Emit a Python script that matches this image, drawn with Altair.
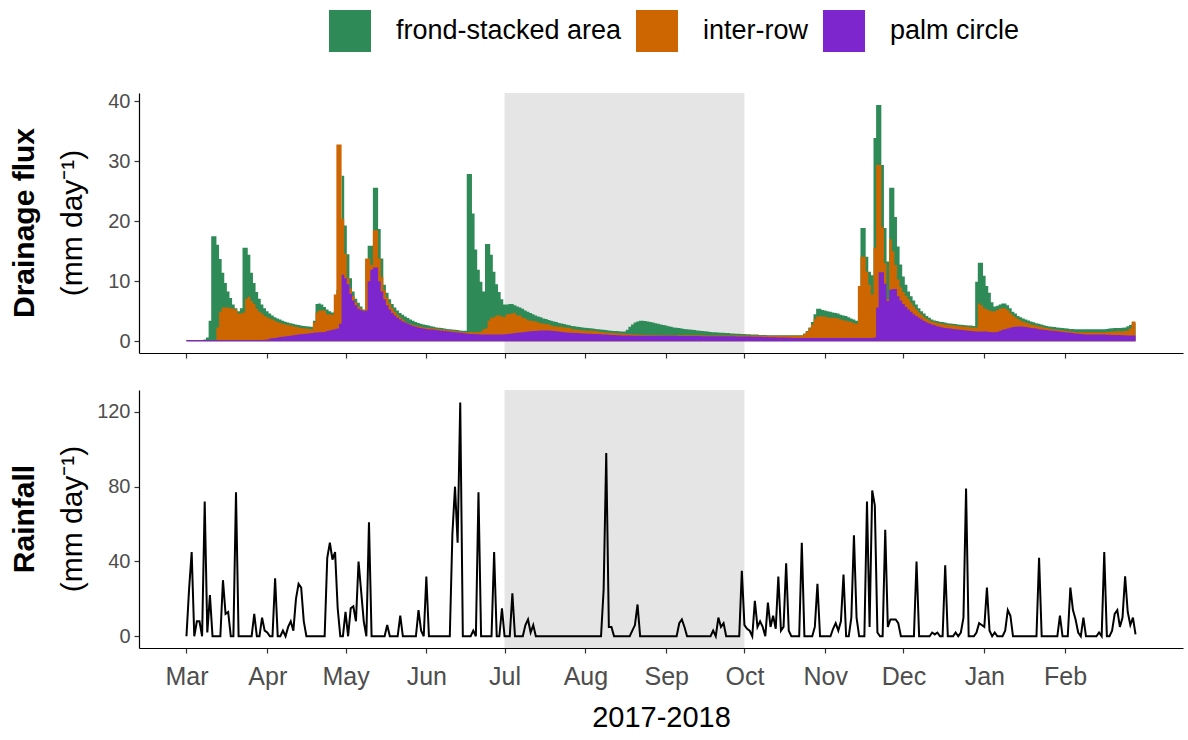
import altair as alt
import pandas as pd

# ---------------- data ----------------
MONTH_LABELS = ["Mar", "Apr", "May", "Jun", "Jul", "Aug", "Sep", "Oct", "Nov", "Dec", "Jan", "Feb"]
MONTH_START_DAY = [0, 31, 61, 92, 122, 153, 184, 214, 245, 275, 306, 337]   # day 0 = 1 Mar 2017
DRY_PERIOD = [122, 214]                                                    # 1 Jul - 1 Oct
ZONES = ["frond-stacked area", "inter-row", "palm circle"]
ZONE_COLORS = ["#2E8B57", "#CD6600", "#7D26CD"]

# daily drainage flux (mm/day), one value per day, Mar 2017 - Feb 2018
frond_stacked = (
    [0.2,0.2,0.2,0.2,0.2,0.2,0.2,0.3,0.6,3.4,17.5,17.5,16.1,13.7,11.4,9.7,8.3,7.2,6.1,5.5,5.0,5.5,15.6,15.6,14.4,11.4,9.7,8.2,7.1,6.1,5.5]
    + [5.0,4.6,4.3,4.0,3.8,3.6,3.4,3.25,3.1,3.0,2.9,2.8,2.7,2.6,2.55,2.5,2.45,2.4,3.4,6.2,6.3,6.1,5.7,5.3,5.0,4.8,5.0,8.5,8.5,27.6]
    + [19.3,14.5,10.5,8.3,7.1,6.4,5.8,5.3,5.0,15.9,15.9,25.6,25.6,18.7,13.8,9.4,8.1,7.0,6.2,5.6,5.1,4.7,4.4,4.1,3.85,3.6,3.4,3.2,3.05,2.9,2.8]
    + [2.7,2.6,2.5,2.4,2.3,2.25,2.2,2.1,2.05,2.0,1.95,1.9,1.85,1.8,1.75,1.75,27.9,27.9,21.3,15.3,11.9,9.9,8.3,16.2,16.2,14.4,11.6,9.5,8.2,7.0]
    + [6.1,6.1,6.2,6.2,6.0,5.8,5.6,5.4,5.1,4.9,4.7,4.5,4.3,4.1,4.0,3.8,3.7,3.55,3.4,3.3,3.2,3.05,2.95,2.85,2.75,2.65,2.55,2.5,2.4,2.35,2.3]
    + [2.25,2.2,2.15,2.1,2.05,2.0,1.95,1.9,1.85,1.8,1.75,1.7,1.7,1.65,1.6,1.6,1.9,2.4,2.8,3.1,3.3,3.4,3.4,3.35,3.3,3.2,3.1,3.0,2.9,2.8,2.7]
    + [2.6,2.5,2.4,2.3,2.25,2.2,2.1,2.05,2.0,1.95,1.9,1.85,1.8,1.75,1.7,1.65,1.6,1.55,1.5,1.5,1.45,1.4,1.4,1.35,1.35,1.3,1.3,1.25,1.25,1.2]
    + [1.2,1.15,1.15,1.1,1.1,1.1,1.05,1.05,1.05,1.0,1.0,1.0,1.0,1.0,1.0,1.0,1.0,1.0,1.0,1.0,1.0,1.0,1.0,1.3,1.7,2.3,3.2,4.5,5.4,5.4,5.2]
    + [5.1,5.0,4.9,4.8,4.7,4.6,4.4,4.3,4.2,4.0,3.8,3.6,3.4,3.3,18.9,18.9,14.1,11.6,11.0,33.9,39.4,39.4,29.4,18.9,13.3,25.6,25.6,20.7,15.8,12.8]
    + [10.8,9.4,8.3,7.5,6.8,6.1,5.5,5.0,4.6,4.2,3.9,3.6,3.45,3.35,3.25,3.2,3.1,3.0,2.95,2.9,2.85,2.8,2.75,2.7,2.65,2.6,2.6,2.55,9.9,13.1,13.1]
    + [10.9,9.2,8.1,6.5,5.8,5.9,6.1,6.3,6.3,6.0,5.5,4.9,4.6,4.2,4.0,3.8,3.6,3.45,3.3,3.15,3.0,2.9,2.8,2.65,2.55,2.45,2.4,2.35,2.3,2.25,2.2]
    + [2.15,2.1,2.05,2.05,2.0,2.0,2.0,2.0,2.0,2.0,2.0,2.0,2.0,2.0,2.0,2.0,2.05,2.1,2.15,2.2,2.2,2.2,2.25,2.3,2.5,2.7,2.9,3.0]
)

inter_row = (
    [0.2,0.2,0.2,0.2,0.2,0.2,0.2,0.2,0.2,0.2,0.2,0.2,2.3,4.9,5.6,5.6,5.6,5.5,5.4,5.3,4.6,4.6,4.8,7.1,7.4,6.7,6.2,5.4,4.9,4.6,4.2]
    + [4.0,3.8,3.6,3.4,3.2,3.05,2.9,2.8,2.7,2.6,2.5,2.4,2.3,2.2,2.15,2.1,2.05,2.0,3.1,4.8,5.1,5.1,5.1,4.5,4.5,4.4,7.8,32.8,32.8,20.4]
    + [14.6,10.5,8.8,7.5,6.5,5.8,5.4,5.1,13.8,13.8,12.7,18.5,18.5,13.8,10.7,8.5,7.3,6.3,5.5,4.9,4.4,4.0,3.6,3.3,3.0,2.85,2.7,2.6,2.5,2.4,2.3]
    + [2.25,2.2,2.15,2.1,2.05,2.0,1.95,1.9,1.85,1.8,1.75,1.7,1.65,1.6,1.55,1.5,1.5,1.5,1.5,1.5,1.5,1.6,2.0,2.1,3.4,3.9,4.0,4.3,4.3,4.1]
    + [4.05,4.5,4.5,4.66,4.66,4.3,4.3,3.9,3.8,3.5,3.4,3.35,3.3,3.1,3.0,2.9,2.85,2.8,2.6,2.5,2.45,2.4,2.35,2.3,2.25,2.2,2.0,1.95,1.9,1.85,1.8]
    + [1.78,1.76,1.74,1.72,1.7,1.6,1.55,1.5,1.45,1.4,1.38,1.35,1.32,1.3,1.28,1.25,1.22,1.2,1.15,1.12,1.1,1.08,1.06,1.05,1.04,1.03,1.02,1.02,1.01,1.0,1.0]
    + [1.0,1.0,1.0,1.0,1.0,1.0,1.0,1.0,1.0,1.0,0.98,0.98,0.98,0.98,0.98,0.97,0.97,0.97,0.97,0.97,0.96,0.96,0.96,0.96,0.96,0.95,0.95,0.95,0.95,0.95]
    + [0.95,0.95,0.95,0.95,0.95,0.95,0.95,0.92,0.92,0.92,0.92,0.92,0.9,0.9,0.9,0.9,0.9,0.9,0.9,0.9,0.9,0.9,0.95,1.2,1.6,2.1,2.8,3.7,4.1,4.15,4.1]
    + [4.1,3.95,3.9,3.9,3.85,3.8,3.6,3.5,3.4,3.3,3.2,3.0,2.9,9.2,14.1,14.1,11.6,9.4,7.8,15.6,29.4,29.4,19.0,13.0,7.0,17.0,15.0,12.7,10.3,9.0]
    + [8.2,7.6,7.0,6.4,5.8,5.3,4.8,4.4,4.0,3.7,3.45,3.3,3.15,3.05,2.95,2.9,2.8,2.75,2.7,2.65,2.6,2.55,2.5,2.45,2.4,2.35,2.3,2.3,2.3,6.3,6.0]
    + [5.5,5.3,5.1,5.0,5.0,5.2,5.4,5.5,5.5,5.2,4.7,4.3,4.0,3.7,3.45,3.25,3.1,2.95,2.8,2.7,2.6,2.5,2.4,2.3,2.2,2.1,2.0,1.95,1.9,1.85,1.8]
    + [1.75,1.7,1.65,1.6,1.55,1.5,1.5,1.5,1.5,1.48,1.48,1.48,1.48,1.48,1.5,1.5,1.52,1.55,1.6,1.62,1.65,1.65,1.65,1.7,1.8,2.1,3.3,3.3]
)

palm_circle = (
    [0.2,0.2,0.2,0.2,0.2,0.2,0.2,0.2,0.2,0.2,0.2,0.2,0.2,0.2,0.2,0.2,0.2,0.2,0.2,0.2,0.2,0.2,0.2,0.2,0.2,0.2,0.2,0.2,0.2,0.2,0.25]
    + [0.3,0.4,0.5,0.55,0.6,0.7,0.75,0.8,0.85,0.9,1.0,1.05,1.1,1.15,1.2,1.25,1.3,1.35,1.4,1.45,1.5,1.5,1.55,1.7,1.8,1.9,2.0,2.1,2.9,11.1]
    + [10.5,9.5,7.9,6.8,6.0,5.4,5.2,5.0,5.1,10.0,11.9,12.3,12.3,10.0,8.3,7.0,6.0,5.3,4.7,4.3,3.9,3.6,3.3,3.1,2.9,2.7,2.55,2.4,2.3,2.2,2.1]
    + [2.05,2.0,1.95,1.9,1.85,1.8,1.75,1.7,1.65,1.6,1.55,1.5,1.45,1.4,1.35,1.3,1.25,1.2,1.2,1.15,1.15,1.1,1.1,1.1,1.1,1.1,1.1,1.1,1.1,1.1]
    + [1.15,1.2,1.25,1.3,1.35,1.4,1.45,1.5,1.55,1.6,1.65,1.7,1.72,1.75,1.77,1.78,1.78,1.77,1.75,1.7,1.65,1.6,1.55,1.5,1.45,1.42,1.4,1.38,1.35,1.32,1.3]
    + [1.28,1.26,1.24,1.22,1.2,1.18,1.15,1.12,1.1,1.08,1.05,1.02,1.0,0.98,0.96,0.95,0.94,0.93,0.93,0.92,0.92,0.92,0.91,0.91,0.91,0.9,0.9,0.9,0.9,0.9,0.9]
    + [0.9,0.9,0.9,0.89,0.89,0.88,0.88,0.87,0.87,0.86,0.86,0.85,0.85,0.85,0.84,0.84,0.84,0.83,0.83,0.83,0.82,0.82,0.82,0.82,0.81,0.81,0.81,0.8,0.8,0.8]
    + [0.8,0.8,0.78,0.76,0.75,0.74,0.72,0.7,0.7,0.68,0.66,0.65,0.64,0.62,0.6,0.6,0.6,0.58,0.56,0.55,0.55,0.55,0.55,0.55,0.55,0.55,0.55,0.55,0.55,0.55,0.55]
    + [0.55,0.55,0.55,0.55,0.55,0.55,0.55,0.55,0.55,0.55,0.55,0.55,0.55,0.55,0.55,0.55,0.55,0.55,0.55,0.6,5.6,11.5,11.5,9.6,6.7,8.6,8.7,8.7,7.5,6.8]
    + [6.2,5.7,5.3,4.9,4.5,4.2,3.9,3.6,3.35,3.1,2.95,2.8,2.65,2.5,2.4,2.3,2.2,2.15,2.1,2.05,2.0,1.95,1.9,1.85,1.8,1.75,1.7,1.65,1.6,1.6,1.6]
    + [1.6,1.6,1.55,1.5,1.5,1.55,1.7,1.9,2.0,2.1,2.25,2.35,2.4,2.45,2.45,2.4,2.35,2.3,2.2,2.15,2.1,2.0,1.95,1.9,1.85,1.8,1.75,1.7,1.65,1.6,1.55]
    + [1.5,1.45,1.4,1.35,1.3,1.25,1.2,1.15,1.12,1.1,1.1,1.1,1.1,1.1,1.1,1.1,1.08,1.06,1.05,1.04,1.03,1.02,1.0,0.98,0.96,0.95,0.93,0.93]
)

# daily rainfall (mm/day)
rainfall = (
    [0,25,45,0,8,8,0,72,2,22,0,0,0,0,30,12,13,0,0,77,0,0,0,0,0,0,12,0,0,10,3]
    + [2,0,0,31,0,0,3,0,5,8,3,20,28,26,8,0,0,0,0,0,0,0,0,42,50,41,45,15,0,0]
    + [13,0,15,16,8,40,24,8,0,61,0,0,0,0,0,0,6,0,0,0,0,11,0,0,0,0,0,0,14,3,0]
    + [32,0,0,0,0,0,0,0,0,0,55,80,50,125,0,0,0,0,3,0,77,0,0,0,0,0,45,0,0,15]
    + [0,0,0,23,0,0,0,0,6,9,2,6,0,0,0,0,0,0,0,0,0,0,0,0,0,0,0,0,0,0,0]
    + [0,0,0,0,0,0,0,25,98,5,5,0,0,0,0,0,0,0,3,6,17,0,0,0,0,0,0,0,0,0,0]
    + [0,0,0,0,0,7,9,5,0,0,0,0,0,0,0,0,0,0,3,0,10,5,7,0,0,0,0,0,0,35]
    + [6,4,3,0,19,5,8,5,0,18,5,11,4,32,3,5,39,3,0,0,0,0,50,0,0,0,0,5,28,0,0]
    + [0,0,0,4,7,3,8,33,0,0,10,54,10,0,0,0,72,5,78,70,2,0,0,57,5,9,9,9,7,0]
    + [0,0,0,0,0,40,0,0,0,0,0,2,1,2,0,0,38,0,0,0,2,0,2,10,79,0,0,0,2,7,6]
    + [5,26,3,0,2,0,0,0,3,14,11,0,0,0,0,0,0,0,0,0,0,42,0,0,0,0,0,0,0,11,0]
    + [0,0,26,14,9,2,0,10,0,0,0,0,0,2,0,45,0,0,3,12,14,5,10,32,13,6,10,1]
)

days = list(range(len(rainfall)))

# ---------------- styling ----------------
FONT = "Liberation Sans"
W = 1044
H_TOP = 260
H_BOT = 258
X_DOMAIN = [-18.2, 382.2]

label_expr = ("[" + ",".join("'%s'" % m for m in MONTH_LABELS) + "][indexof(["
              + ",".join(str(v) for v in MONTH_START_DAY) + "], datum.value)]")

x_top = alt.X("day:Q", scale=alt.Scale(domain=X_DOMAIN, nice=False, zero=False),
              axis=alt.Axis(values=MONTH_START_DAY, labels=False, title=None, grid=False,
                            tickSize=5))
x_bot = alt.X("day:Q", scale=alt.Scale(domain=X_DOMAIN, nice=False, zero=False),
              axis=alt.Axis(values=MONTH_START_DAY, labelExpr=label_expr, title="2017-2018",
                            grid=False, tickSize=5, labelFontSize=25, labelColor="#4D4D4D",
                            labelPadding=11, titleFontSize=29, titleFontWeight="normal",
                            titleColor="black", titlePadding=14, labelFont=FONT, titleFont=FONT))

color = alt.Color("zone:N",
                  scale=alt.Scale(domain=ZONES, range=ZONE_COLORS),
                  legend=alt.Legend(title=None, orient="none", legendX=190, legendY=-83,
                                    direction="horizontal", symbolType="square",
                                    symbolSize=1764, symbolStrokeWidth=0, labelFontSize=27,
                                    labelOffset=25, columnPadding=14, labelColor="black",
                                    labelFont=FONT, symbolOpacity=1, labelLimit=500))

y_top = alt.Y("flux:Q", stack=None,
              scale=alt.Scale(domain=[-1.97, 41.4], nice=False, zero=False),
              axis=alt.Axis(values=[0, 10, 20, 30, 40], title=None, grid=False, tickSize=5,
                            labelFontSize=20, labelColor="#4D4D4D", labelFont=FONT, labelPadding=4))

shade_df = pd.DataFrame({"start": [DRY_PERIOD[0]], "end": [DRY_PERIOD[1]]})


def shade(h):
    return alt.Chart(shade_df).mark_rect(color="#E5E5E5").encode(
        x=alt.X("start:Q", scale=alt.Scale(domain=X_DOMAIN, nice=False, zero=False)),
        x2="end:Q", y=alt.value(0), y2=alt.value(h))


def title_text(txt, xpix, ypix, bold):
    return alt.Chart(pd.DataFrame({"t": [txt]})).mark_text(
        angle=270, fontSize=30, font=FONT, fontWeight="bold" if bold else "normal",
        color="black", align="center", baseline="middle").encode(
        text="t:N", x=alt.value(xpix), y=alt.value(ypix))


zone_layers = []
for zname, vals in zip(ZONES, [frond_stacked, inter_row, palm_circle]):
    df = pd.DataFrame({"day": days, "flux": vals, "zone": zname})
    zone_layers.append(
        alt.Chart(df).mark_area(interpolate="step", opacity=1).encode(x=x_top, y=y_top, color=color)
    )

top = alt.layer(
    shade(H_TOP), *zone_layers,
    title_text("Drainage flux", -114, H_TOP / 2, True),
    title_text("(mm day\u207B\u00B9)", -66, H_TOP / 2, False),
).properties(width=W, height=H_TOP)

rain_df = pd.DataFrame({"day": days, "rain": rainfall})
rain_line = alt.Chart(rain_df).mark_line(color="black", strokeWidth=2).encode(
    x=x_bot,
    y=alt.Y("rain:Q", scale=alt.Scale(domain=[-6.27, 131.7], nice=False, zero=False),
            axis=alt.Axis(values=[0, 40, 80, 120], title=None, grid=False, tickSize=5,
                          labelFontSize=20, labelColor="#4D4D4D", labelFont=FONT, labelPadding=4)))

bottom = alt.layer(
    shade(H_BOT), rain_line,
    title_text("Rainfall", -114, H_BOT / 2, True),
    title_text("(mm day\u207B\u00B9)", -66, H_BOT / 2, False),
).properties(width=W, height=H_BOT)

chart = (
    alt.vconcat(top, bottom, spacing=31)
    .properties(padding={"left": 10, "top": 10, "right": 5, "bottom": 5})
    .configure(font=FONT, background="white")
    .configure_view(stroke=None)
    .configure_axis(domainColor="black", domainWidth=1.2, tickColor="#333333", tickWidth=1.2)
)

chart.save("out.html", embed_options={"renderer": "svg", "actions": False})
